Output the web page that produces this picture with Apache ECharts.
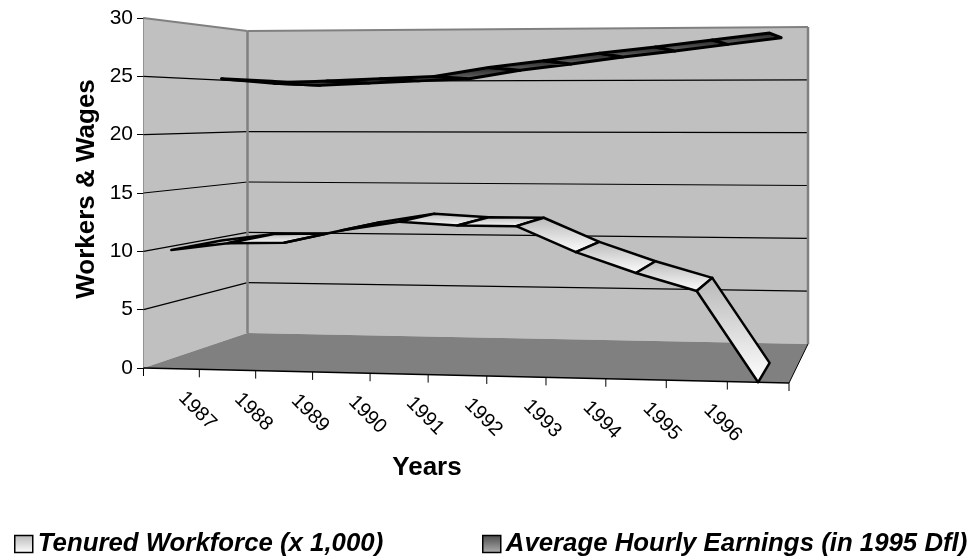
<!DOCTYPE html>
<html>
<head>
<meta charset="utf-8">
<style>html,body{margin:0;padding:0;background:#fff}#chart{width:976px;height:560px}</style>
<script src="https://cdn.jsdelivr.net/npm/echarts@6/dist/echarts.min.js"></script>
</head>
<body>
<div id="chart"></div>
<script>
// 11 slots on the depth axis of the original 3D chart, the last one has no label
const years = ['1987', '1988', '1989', '1990', '1991', '1992', '1993', '1994', '1995', '1996', ''];
const yTicks = [0, 5, 10, 15, 20, 25, 30];
const workforce = [10.15, 10.8, 10.9, 12.0, 12.8, 12.55, 12.55, 10.45, 8.8, 7.4, 0];
const earnings = [25.0, 24.6, 24.8, 25.0, 25.2, 26.0, 26.6, 27.25, 27.8, 28.4, 29.0];

const workforceName = 'Tenured Workforce (x 1,000)';
const earningsName = 'Average Hourly Earnings (in 1995 Dfl)';

const FONT = '"Liberation Sans", Arial, sans-serif';
const gridBox = { left: 144, top: 18, width: 645, height: 350 };

// box corners on screen: front / back, bottom / top, left / right
const corners = {
  fbl: [143.5, 368], ftl: [143.5, 18], fbr: [789, 383], ftr: [789, 16],
  bbl: [247.5, 333], btl: [247.5, 31], bbr: [808, 344], btr: [808, 27]
};

const mix = (a, b, t) => [a[0] + (b[0] - a[0]) * t, a[1] + (b[1] - a[1]) * t];
const perspective = (u) => (u * 0.9465) / (1 - u + u * 0.9465);

// flat grid pixel (from api.coord) + depth -> skewed box pixel
function project(flat, depth) {
  const u = perspective((flat[0] - gridBox.left) / gridBox.width);
  const v = (gridBox.top + gridBox.height - flat[1]) / gridBox.height;
  const front = mix(mix(corners.fbl, corners.fbr, u), mix(corners.ftl, corners.ftr, u), v);
  const back = mix(mix(corners.bbl, corners.bbr, u), mix(corners.btl, corners.btr, u), v);
  return mix(front, back, depth);
}

const line = (a, b, color, width) => ({
  type: 'line',
  shape: { x1: a[0], y1: a[1], x2: b[0], y2: b[1] },
  style: { stroke: color, lineWidth: width }
});
const poly = (points, style) => ({ type: 'polygon', shape: { points }, style });

function renderBox(params, api) {
  const xEdge = (n) => gridBox.left + (n / years.length) * gridBox.width;
  const wall = '#c0c0c0';
  const edge = '#808080';
  const kids = [
    poly([corners.fbl, corners.ftl, corners.btl, corners.bbl], { fill: wall }),
    poly([corners.bbl, corners.btl, corners.btr, corners.bbr], { fill: wall }),
    poly([corners.fbl, corners.bbl, corners.bbr, corners.fbr], { fill: '#808080' })
  ];
  yTicks.forEach((t) => {
    const y = api.coord([0, t])[1];
    const a = project([gridBox.left, y], 0);
    const b = project([gridBox.left, y], 1);
    const c = project([gridBox.left + gridBox.width, y], 1);
    if (t > 0 && t < 30) {
      kids.push(line(a, b, '#000', 1.2), line(b, c, '#000', 1.2));
    }
  });
  kids.push(
    line(corners.ftl, corners.btl, edge, 2),
    line(corners.btl, corners.btr, edge, 2),
    line(corners.btl, corners.bbl, edge, 2.5),
    line(corners.btr, corners.bbr, edge, 2.5),
    line(corners.bbr, corners.fbr, '#000', 1),
    line(corners.fbl, corners.fbr, '#000', 1.5)
  );
  // ticks on the slanted front edge
  for (let n = 0; n <= years.length; n++) {
    const p = project([xEdge(n), gridBox.top + gridBox.height], 0);
    kids.push(line(p, [p[0], p[1] + 8], '#000', 1));
  }
  return { type: 'group', children: kids };
}

function ribbonItem(grad, nearDepth, farDepth, values, width) {
  return function (params, api) {
    const i = params.dataIndex;
    if (i >= values.length - 1) return null;
    const a = api.coord([i, values[i]]);
    const b = api.coord([i + 1, values[i + 1]]);
    const pts = [project(a, nearDepth), project(b, nearDepth), project(b, farDepth), project(a, farDepth)];
    return poly(pts, { fill: grad, stroke: '#000', lineWidth: width, lineJoin: 'round' });
  };
}

function renderYears(params, api) {
  const i = params.dataIndex;
  const p = project(api.coord([i, 0]), 0);
  return {
    type: 'text',
    x: p[0] + 26,
    y: p[1] + 42,
    rotation: -Math.PI / 4,
    style: { text: years[i], font: '20px ' + FONT, fill: '#000', align: 'center', verticalAlign: 'middle' }
  };
}

const vgrad = (c0, c1) => new echarts.graphic.LinearGradient(0, 0, 0, 1, [
  { offset: 0, color: c0 }, { offset: 1, color: c1 }
]);
const lightGrad = vgrad('#b8b8b8', '#ffffff');
const darkGrad = vgrad('#1c1c1c', '#707070');
const darkSwatch = vgrad('#4a4a4a', '#b0b0b0');

const legendText = { fontFamily: FONT, fontWeight: 'bold', fontStyle: 'italic', fontSize: 25.8, color: '#000' };

const chart = echarts.init(document.getElementById('chart'), null, { renderer: 'canvas' });
chart.setOption({
  animation: false,
  grid: gridBox,
  xAxis: { type: 'category', data: years, show: false },
  yAxis: {
    type: 'value', min: 0, max: 30, interval: 5,
    axisLine: { show: true, lineStyle: { color: '#333', width: 1.5 } },
    axisTick: { show: true, length: 7, lineStyle: { color: '#000' } },
    axisLabel: { fontFamily: FONT, fontSize: 21, color: '#000', margin: 11 },
    splitLine: { show: false }
  },
  legend: [
    {
      left: 14, top: 531, padding: 0, itemWidth: 18, itemHeight: 17, itemGap: 6,
      textStyle: legendText,
      data: [{ name: workforceName, icon: 'rect', itemStyle: { color: lightGrad, borderColor: '#000', borderWidth: 1.5 } }]
    },
    {
      left: 482, top: 531, padding: 0, itemWidth: 18, itemHeight: 17, itemGap: 6,
      textStyle: legendText,
      data: [{ name: earningsName, icon: 'rect', itemStyle: { color: darkSwatch, borderColor: '#000', borderWidth: 1.5 } }]
    }
  ],
  graphic: [
    {
      type: 'text', x: 427, y: 468,
      style: { text: 'Years', font: 'bold 26px ' + FONT, fill: '#000', align: 'center', verticalAlign: 'middle' }
    },
    {
      type: 'text', x: 87, y: 189, rotation: Math.PI / 2,
      style: { text: 'Workers & Wages', font: 'bold 26px ' + FONT, fill: '#000', align: 'center', verticalAlign: 'middle' }
    }
  ],
  series: [
    { type: 'custom', name: 'box', data: [0], renderItem: renderBox, silent: true, z: 1 },
    { type: 'custom', name: 'labels', data: years.map((y, i) => i), renderItem: renderYears, silent: true, z: 2 },
    {
      type: 'custom', name: earningsName, data: earnings.map((v, i) => [i, v]),
      renderItem: ribbonItem(darkGrad, 0.5, 1, earnings, 3),
      itemStyle: { color: '#555' }, z: 3
    },
    {
      type: 'custom', name: workforceName, data: workforce.map((v, i) => [i, v]),
      renderItem: ribbonItem(lightGrad, 0, 0.5, workforce, 2.5),
      itemStyle: { color: '#ddd' }, z: 4
    }
  ]
});
</script>
</body>
</html>
